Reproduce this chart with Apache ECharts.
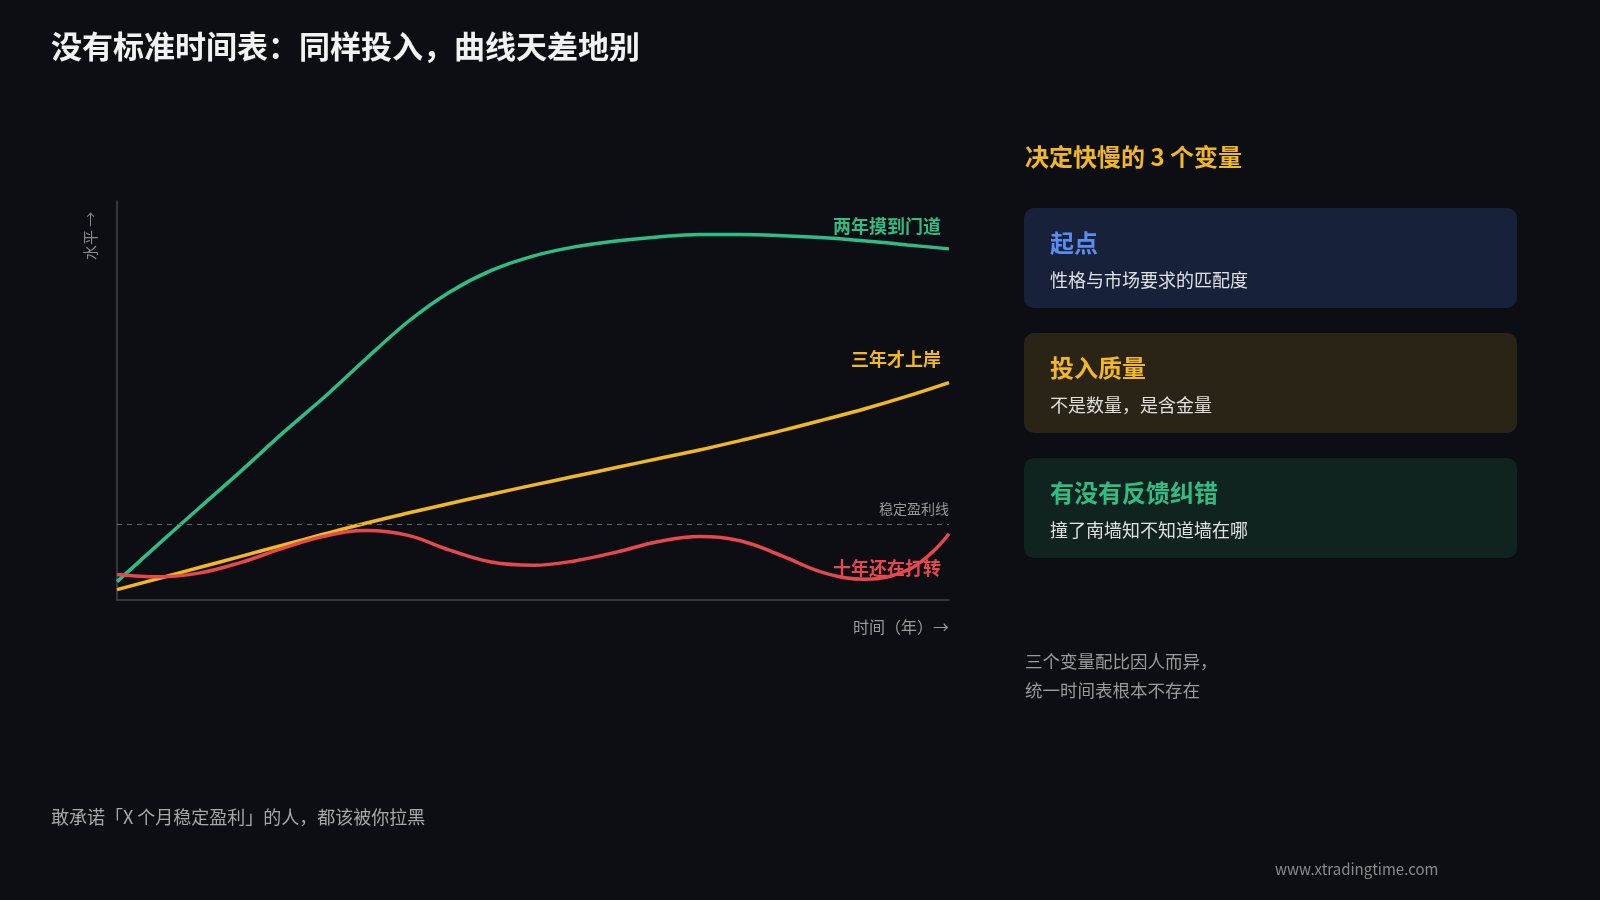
<!DOCTYPE html>
<html><head><meta charset="utf-8">
<script src="https://cdn.jsdelivr.net/npm/echarts@6/dist/echarts.min.js"></script>
<style>html,body{margin:0;padding:0;background:#0d0e13;}#c{width:1600px;height:900px;}</style>
</head><body><div id="c"></div>
<script>
const years = [0,0.5,1,1.5,2,2.5,3,3.5,4,4.5,5,5.5,6,6.5,7,7.5,8,8.5,9,9.5,10];
const greenVals = [4.6,14,23.3,32.5,42,51,60.6,69.8,77.2,82.6,86.2,88.5,90,91,91.6,91.6,91.3,90.8,90,89,88];
const yellowVals = [2.6,5.4,8.2,11,13.8,16.6,19.3,21.8,24.2,26.5,28.8,31,33.2,35.4,37.6,40,42.5,45.2,48,51.1,54.5];
const redYears = [0,0.5,1,1.5,2,2.5,3,3.5,4,4.5,5,5.5,6,6.5,7,7.5,8,8.5,9,9.5,9.8,10];
const redVals = [6.4,5.8,6.8,9.5,13,16,17.4,16.2,12.5,9.5,8.7,9.8,12,14.6,15.9,14.8,11,6.8,5.2,7.5,12,16.6];
const profitLine = 19;
const seriesNames = ['两年摸到门道','三年才上岸','十年还在打转'];
const cards = [
  {t:'起点', s:'性格与市场要求的匹配度', bg:'#18213a', c:'#5b8def'},
  {t:'投入质量', s:'不是数量，是含金量', bg:'#2a2416', c:'#f2b824'},
  {t:'有没有反馈纠错', s:'撞了南墙知不知道墙在哪', bg:'#10231f', c:'#2ebd85'}
];
const F = '"Noto Sans CJK SC", sans-serif';
const chart = echarts.init(document.getElementById('c'));
const zip = (xs, ys) => xs.map((x,i)=>[x, ys[i]]);
const graphics = [
  {type:'text', left:51, top:31, style:{text:'没有标准时间表：同样投入，曲线天差地别', fill:'#f2f2f2', font:'bold 31px '+F}},
  {type:'text', left:1025, top:145, style:{text:'决定快慢的 3 个变量', fill:'#f2b824', font:'bold 24px '+F}},
  {type:'text', left:1025, top:647, style:{text:'三个变量配比因人而异，\n统一时间表根本不存在', fill:'#9a9a9a', font:'17.5px '+F, lineHeight:29}},
  {type:'text', left:51, top:808, style:{text:'敢承诺「X 个月稳定盈利」的人，都该被你拉黑', fill:'#a8a8a8', font:'18px '+F}},
  {type:'text', left:1275, top:862, style:{text:'www.xtradingtime.com', fill:'#8a8a8a', font:'15px '+F}},
  {type:'text', x:90, y:260, rotation:Math.PI/2, style:{text:'水平 →', fill:'#888', font:'15px '+F, align:'left', verticalAlign:'middle'}},
  {type:'text', right:651, top:619, style:{text:'时间（年）→', fill:'#999', font:'16px '+F}},
  {type:'text', right:651, top:502, style:{text:'稳定盈利线', fill:'#999', font:'14px '+F}},
  {type:'text', right:659, top:217, style:{text:seriesNames[0], fill:'#2ebd85', font:'bold 18px '+F}},
  {type:'text', right:659, top:350, style:{text:seriesNames[1], fill:'#f2b824', font:'bold 18px '+F}},
  {type:'text', right:659, top:559, style:{text:seriesNames[2], fill:'#e5484d', font:'bold 18px '+F}}
];
cards.forEach((cd,i)=>{
  const y = 208 + i*125;
  graphics.push({type:'rect', shape:{x:1024,y:y,width:493,height:100,r:10}, style:{fill:cd.bg}});
  graphics.push({type:'text', left:1050, top:y+23, style:{text:cd.t, fill:cd.c, font:'bold 24px '+F}});
  graphics.push({type:'text', left:1050, top:y+63, style:{text:cd.s, fill:'#e0e0e0', font:'18px '+F}});
});
const lineStyle = (c)=>({color:c, width:3.5});
chart.setOption({
  backgroundColor:'#0d0e13',
  animation:false,
  grid:{left:117, right:651, top:201, bottom:300},
  xAxis:{type:'value', min:0, max:10, axisLine:{lineStyle:{color:'#444', width:1.5}}, axisTick:{show:false}, axisLabel:{show:false}, splitLine:{show:false}},
  yAxis:{type:'value', min:0, max:100, axisLine:{show:true, lineStyle:{color:'#444', width:1.5}}, axisTick:{show:false}, axisLabel:{show:false}, splitLine:{show:false}},
  series:[
    {name:seriesNames[0], type:'line', smooth:0.3, showSymbol:false, data:zip(years, greenVals), lineStyle:lineStyle('#2ebd85'), z:3,
     markLine:{silent:true, symbol:'none', label:{show:false}, lineStyle:{color:'#666', type:[5,5], width:1}, data:[{yAxis:profitLine}]}},
    {name:seriesNames[1], type:'line', smooth:0.4, showSymbol:false, data:zip(years, yellowVals), lineStyle:lineStyle('#f2b824'), z:3},
    {name:seriesNames[2], type:'line', smooth:0.4, showSymbol:false, data:zip(redYears, redVals), lineStyle:lineStyle('#e5484d'), z:4}
  ],
  graphic:graphics
});
</script></body></html>
